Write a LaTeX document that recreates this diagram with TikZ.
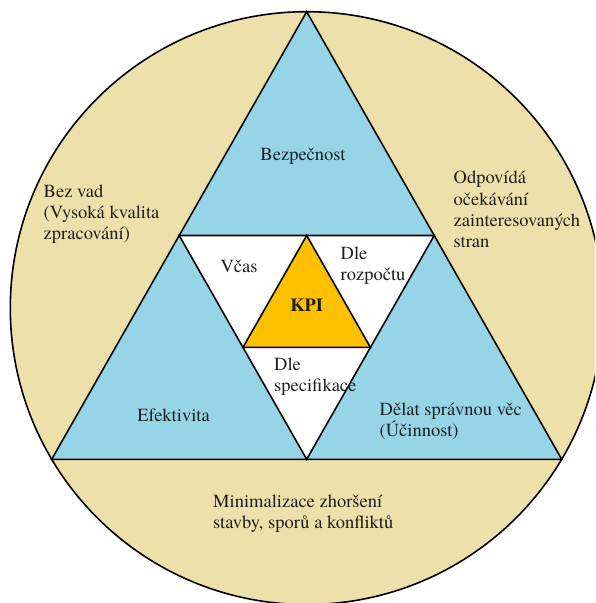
\documentclass[tikz,border=0pt]{standalone}
\usepackage{fontspec}
\setmainfont{TeX Gyre Termes}
\usetikzlibrary{calc}
\definecolor{ringtan}{RGB}{238,224,170}
\definecolor{paleblue}{RGB}{150,213,232}
\definecolor{kpigold}{RGB}{255,192,0}
\definecolor{txt}{RGB}{30,30,30}
\begin{document}
\begin{tikzpicture}[x=1pt,y=-1pt,
  edge/.style={draw=black,line width=1.6pt,line join=miter},
  lbl/.style={inner sep=0pt,font=\rmfamily\fontsize{18.5}{21.3}\selectfont,text=txt},
  lblL/.style={lbl,align=left,anchor=west}]
  % page frame
  \clip (0,0) rectangle (595,603);
  \fill[white] (0,0) rectangle (595,603);

  % corners of the outer triangle
  \coordinate (T) at (306.7,11.7);
  \coordinate (L) at (51.7,459.3);
  \coordinate (R) at (561.7,459.3);
  % side midpoints (corners of the white inverted triangle)
  \coordinate (ML) at ($(T)!0.5!(L)$);
  \coordinate (MR) at ($(T)!0.5!(R)$);
  \coordinate (MB) at ($(L)!0.5!(R)$);
  % corners of the KPI triangle
  \coordinate (KT) at ($(ML)!0.5!(MR)$);
  \coordinate (KL) at ($(ML)!0.5!(MB)$);
  \coordinate (KR) at ($(MR)!0.5!(MB)$);

  % outer ring
  \draw[edge,fill=ringtan] (306.7,308.1) circle[radius=296.4];
  % layered triangles
  \filldraw[edge,fill=paleblue] (T) -- (L) -- (R) -- cycle;
  \filldraw[edge,fill=white] (ML) -- (MR) -- (MB) -- cycle;
  \filldraw[edge,fill=kpigold] (KT) -- (KL) -- (KR) -- cycle;

  % labels
  \node[lbl] (bezp) at (303,156) {Bezpečnost};
  \node[lblL] (bezvad) at (43.5,214) {Bez vad\\(Vysoká kvalita\\zpracování)};
  \node[lblL] (odpov) at (453.5,209.5) {Odpovídá\\očekávání\\zainteresovaných\\stran};
  \node[lbl] (vcas) at (239,266) {Včas};
  \node[lblL] (rozp) at (340.5,265.8) {Dle\\rozpočtu};
  \node[lbl,font=\rmfamily\fontsize{18.5}{21.3}\selectfont\bfseries] (kpi) at (306.7,305) {KPI};
  \node[lblL] (spec) at (274,377) {Dle\\specifikace};
  \node[lbl] (efekt) at (173.6,415) {Efektivita};
  \node[lblL] (ucin) at (379.5,421.3) {Dělat správnou věc\\(Účinnost)};
  \node[lblL] (minim) at (213,513.5) {Minimalizace zhoršení\\stavby, sporů a konfliktů};
\end{tikzpicture}
\end{document}
